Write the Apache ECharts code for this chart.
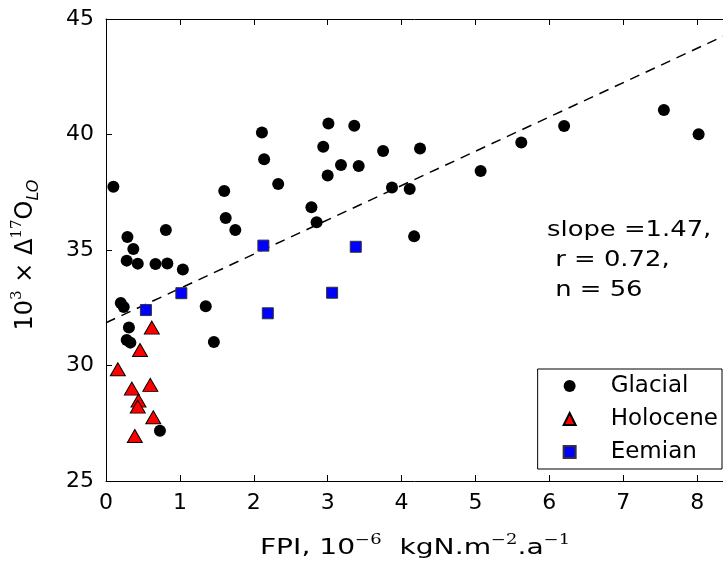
<!DOCTYPE html>
<html><head><meta charset="utf-8">
<script src="https://cdn.jsdelivr.net/npm/echarts@6/dist/echarts.min.js"></script>
<style>html,body{margin:0;padding:0;background:#fff}#c{width:723px;height:563px}</style>
</head><body><div id="c"></div>
<script>
// ---- data ----
const glacialX = [0.10,0.20,0.24,1.35,0.31,0.28,0.33,1.46,0.73,0.29,0.37,0.28,0.43,0.67,0.83,0.81,1.04,1.60,1.62,1.75,2.11,2.14,2.33,3.01,3.36,2.94,3.18,3.42,3.00,3.75,4.25,3.87,4.11,2.78,2.85,4.17,6.20,7.55,8.02,5.62,5.07];
const glacialY = [37.74,32.71,32.53,32.57,31.64,31.10,30.99,31.02,27.18,35.56,35.04,34.54,34.41,34.39,34.42,35.87,34.16,37.55,36.39,35.87,40.09,38.93,37.86,40.48,40.38,39.47,38.68,38.64,38.23,39.29,39.39,37.71,37.64,36.85,36.20,35.59,40.37,41.06,40.01,39.65,38.42];
const holoceneX = [0.62,0.46,0.16,0.35,0.60,0.44,0.43,0.64,0.39];
const holoceneY = [31.64,30.67,29.84,29.00,29.16,28.48,28.22,27.76,26.95];
const eemianX = [0.54,1.02,2.13,3.38,3.06,2.19];
const eemianY = [32.40,33.13,35.19,35.14,33.15,32.26];
const fitX = [0, 8.35];
const fitY = [31.85, 44.25];
const xTicks = [0,1,2,3,4,5,6,7,8];
const yTicks = [25,30,35,40,45];
const seriesNames = ['Glacial','Holocene','Eemian'];
const annotationLines = ['slope =1.47,', ' r = 0.72,', ' n = 56'];

const zip = (a,b) => a.map((v,i)=>[v,b[i]]);
const FONT = 'DejaVu Sans';

const chart = echarts.init(document.getElementById('c'), null, {renderer:'canvas'});
const axisCommon = {
  type:'value',
  axisLine:{show:true, lineStyle:{color:'#000', width:1}},
  axisTick:{show:true, inside:true, length:6, lineStyle:{color:'#000', width:1}},
  splitLine:{show:false},
};
chart.setOption({
  animation:false,
  backgroundColor:'#fff',
  grid:{left:106, right:0, top:19, bottom:82, containLabel:false, outerBoundsMode:'none'},
  xAxis:[
    Object.assign({}, axisCommon, {
      min:0, max:8.35, interval:1, position:'bottom',
      axisLabel:{fontFamily:FONT, fontSize:22, color:'#000', margin:11,
        formatter:v => xTicks.includes(v) ? String(v) : ''}
    }),
    Object.assign({}, axisCommon, {
      min:0, max:8.35, interval:1, position:'top',
      axisLabel:{show:false}
    })
  ],
  yAxis:[
    Object.assign({}, axisCommon, {
      min:25, max:45, interval:5,
      axisLabel:{fontFamily:FONT, fontSize:22, color:'#000', margin:12,
        formatter:v => yTicks.includes(v) ? String(v) : ''}
    })
  ],
  legend:{
    orient:'vertical', right:1, bottom:94,
    data:seriesNames,
    backgroundColor:'#fff', borderColor:'#000', borderWidth:1, borderRadius:0,
    padding:[5,4,5,25], itemGap:9, itemWidth:12, itemHeight:12,
    textStyle:{fontFamily:FONT, fontSize:23, color:'#000', lineHeight:24, padding:[0,0,0,30]}
  },
  series:[
    {type:'line', data:zip(fitX,fitY), symbol:'none', silent:true, z:1,
     lineStyle:{color:'#000', width:1.5, type:[10,7]}, clip:true},
    {name:seriesNames[0], type:'scatter', data:zip(glacialX,glacialY), symbol:'circle', symbolSize:12,
     itemStyle:{color:'#000', opacity:1}, z:3},
    {name:seriesNames[1], type:'scatter', data:zip(holoceneX,holoceneY), symbol:'triangle', symbolSize:[15,13],
     itemStyle:{color:'#ff0000', borderColor:'#000', borderWidth:1, opacity:1}, z:4},
    {name:seriesNames[2], type:'scatter', data:zip(eemianX,eemianY), symbol:'rect', symbolSize:11,
     itemStyle:{color:'#0000ff', borderColor:'#333', borderWidth:1, opacity:1}, z:5}
  ],
  graphic:[
    {type:'text', x:547, y:216, scaleX:1.23, z:10,
     style:{text:annotationLines.join('\n'), fontFamily:FONT, fontSize:21, lineHeight:30, fill:'#000',
            align:'left', verticalAlign:'top'}},
    {type:'text', x:26, y:255, rotation:Math.PI/2, z:10,
     style:{
       text:'{m|10}{sup|3}{m| × Δ}{sup|17}{m|O}{sub|LO}',
       align:'center', verticalAlign:'middle',
       rich:{
         m:{fontFamily:FONT, fontSize:24, lineHeight:32, fill:'#000'},
         sup:{fontFamily:'DejaVu Serif', fontSize:15, lineHeight:15, verticalAlign:'top', fill:'#000'},
         sub:{fontFamily:FONT, fontStyle:'italic', fontSize:16, lineHeight:16, verticalAlign:'bottom', fill:'#000'}
       }
     }},
    {type:'text', x:415, y:548, scaleX:1.28, z:10,
     style:{
       text:'{m|FPI, 10}{sup|−6}{m|  kgN.m}{sup|−2}{m|.a}{sup|−1}',
       align:'center', verticalAlign:'middle',
       rich:{
         m:{fontFamily:FONT, fontSize:22, lineHeight:30, fill:'#000'},
         sup:{fontFamily:'DejaVu Serif', fontSize:14, lineHeight:14, verticalAlign:'top', fill:'#000'}
       }
     }}
  ]
});
</script></body></html>
